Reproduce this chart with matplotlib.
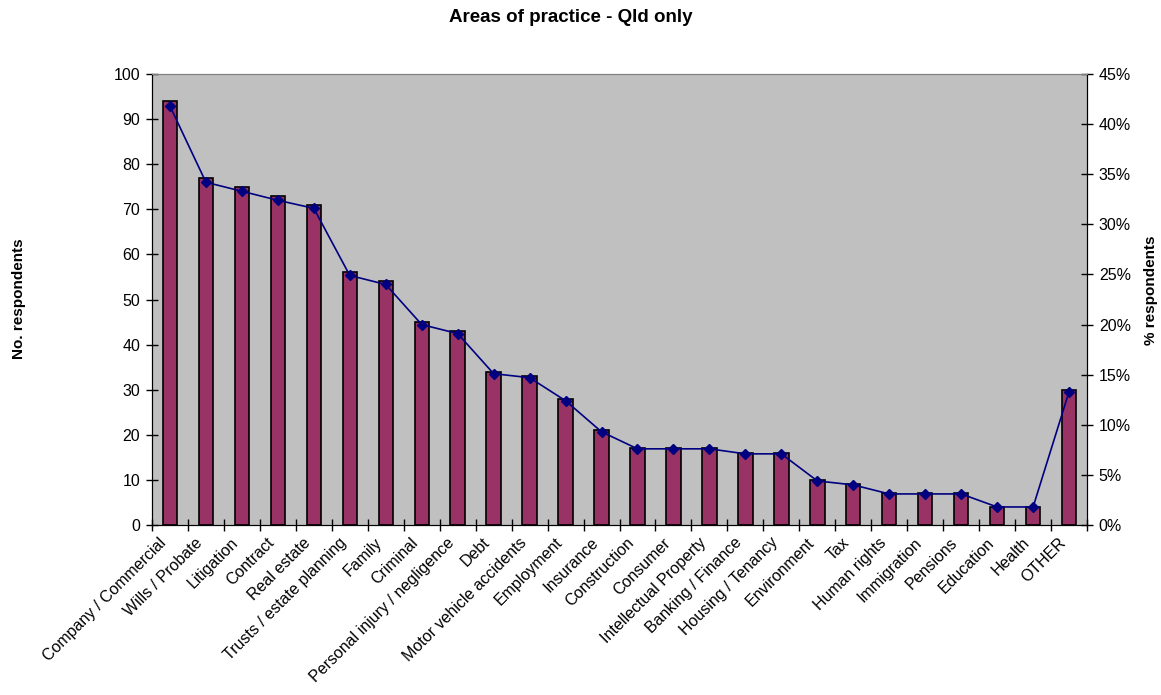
import matplotlib
matplotlib.use("Agg")
import matplotlib.pyplot as plt
from matplotlib.ticker import FixedLocator, FuncFormatter

plt.rcParams["font.family"] = ["Liberation Sans", "DejaVu Sans"]

categories = [
    "Company / Commercial", "Wills / Probate", "Litigation", "Contract",
    "Real estate", "Trusts / estate planning", "Family", "Criminal",
    "Personal injury / negligence", "Debt", "Motor vehicle accidents",
    "Employment", "Insurance", "Construction", "Consumer",
    "Intellectual Property", "Banking / Finance", "Housing / Tenancy",
    "Environment", "Tax", "Human rights", "Immigration", "Pensions",
    "Education", "Health", "OTHER",
]
respondents = [94, 77, 75, 73, 71, 56, 54, 45, 43, 34, 33, 28, 21, 17, 17,
               17, 16, 16, 10, 9, 7, 7, 7, 4, 4, 30]
pct_respondents = [41.8, 34.2, 33.3, 32.4, 31.6, 24.9, 24.0, 20.0, 19.1,
                   15.1, 14.7, 12.4, 9.3, 7.6, 7.6, 7.6, 7.1, 7.1, 4.4, 4.0,
                   3.1, 3.1, 3.1, 1.8, 1.8, 13.3]

fig = plt.figure(figsize=(11.61, 6.95), dpi=100)
ax = fig.add_axes([0.1309, 0.2446, 0.8054, 0.6489])
ax.set_facecolor("#C0C0C0")

x = list(range(len(categories)))
ax.bar(x, respondents, width=0.4, color="#993366", edgecolor="black",
       linewidth=1.2, zorder=2)
ax.set_xlim(-0.5, len(categories) - 0.5)
ax.set_ylim(0, 100)
ax.set_yticks(range(0, 101, 10))

# category labels sit just left of each bar centre; tick marks sit between bars
label_offset = 0.16
ax.set_xticks([i - label_offset for i in x])
ax.set_xticklabels(categories, rotation=45, ha="right", va="center",
                   rotation_mode="anchor", fontsize=11.5)
ax.tick_params(axis="x", which="major", length=0, pad=11)
ax.xaxis.set_minor_locator(FixedLocator([i - 0.5 for i in range(len(categories) + 1)]))
ax.tick_params(axis="x", which="minor", direction="inout", length=9, width=1)
ax.tick_params(axis="y", direction="inout", length=9, width=1, labelsize=11.5, pad=4)

for side in ("left", "bottom"):
    ax.spines[side].set_color("black")
ax.spines["top"].set_color("#808080")
ax.spines["right"].set_color("black")

ax2 = ax.twinx()
ax2.plot(x, pct_respondents, color="#000080", linewidth=1.2, marker="D",
         markersize=5.5, markerfacecolor="#000080", markeredgecolor="#000080",
         zorder=3)
ax2.set_ylim(0, 45)
ax2.set_yticks(range(0, 46, 5))
ax2.yaxis.set_major_formatter(FuncFormatter(lambda v, _: f"{int(v)}%"))
ax2.tick_params(axis="y", direction="inout", length=9, width=1, labelsize=11.5, pad=4)
ax2.spines["top"].set_color("#808080")

fig.text(0.492, 0.975, "Areas of practice - Qld only", ha="center", va="center",
         fontsize=13.5, fontweight="bold")
fig.text(0.016, 0.57, "No. respondents", rotation=90, ha="center",
         va="center", fontsize=11, fontweight="bold")
fig.text(0.991, 0.582, "% respondents", rotation=90, ha="center",
         va="center", fontsize=11, fontweight="bold")

fig.savefig("out.png", dpi=100)
